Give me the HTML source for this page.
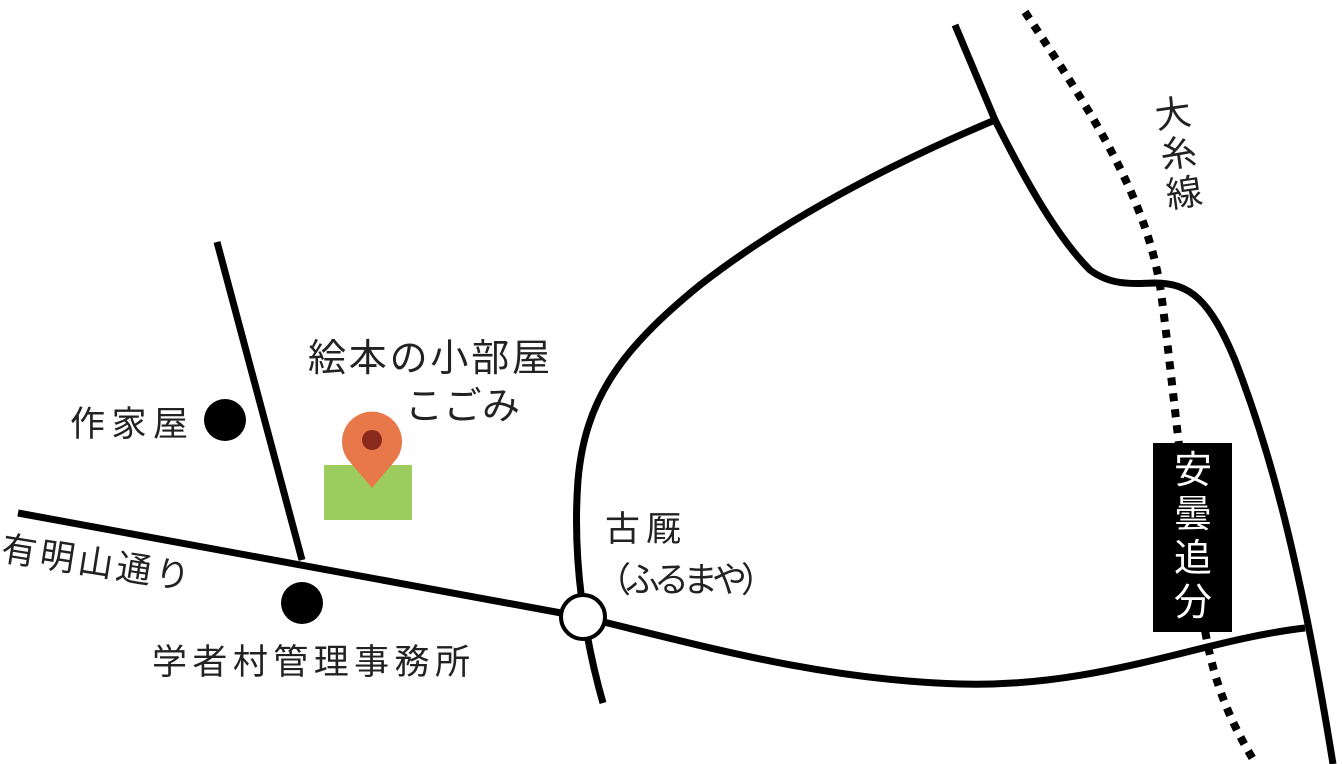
<!DOCTYPE html>
<html><head><meta charset="utf-8"><style>
html,body{margin:0;padding:0;background:#fff;}
svg{display:block;}
text{font-family:"Liberation Sans","Noto Sans CJK JP",sans-serif;fill:#222;}
</style></head><body>
<svg width="1342" height="764" viewBox="0 0 1342 764" xmlns="http://www.w3.org/2000/svg">
<g fill="none" stroke="#000" stroke-width="7" stroke-linecap="butt">
<path d="M1025,12 C1090,110 1150,200 1162,300 C1175,400 1185,520 1205,630 C1215,690 1235,730 1256,764" stroke-dasharray="8 8" stroke-width="8"/>
<path d="M18,513 L583,617"/>
<path d="M583,617 C700,645 820,680 960,684 C1100,688 1200,640 1305,628"/>
<path d="M217,242 L302,560"/>
<path d="M603,703 C585,640 572,560 578,480 C585,400 620,350 700,285 C790,215 900,160 995,120"/>
<path d="M955,25 L995,120 C1030,190 1060,240 1090,270 C1110,285 1130,284 1155,283 C1190,283 1210,300 1235,360 C1270,450 1300,560 1333,764"/>
</g>
<rect x="1153" y="443" width="79" height="189" fill="#000"/>
<g font-size="38" text-anchor="middle">
<text x="1193" y="483" style="fill:#fff">安</text>
<text x="1193" y="527" style="fill:#fff">曇</text>
<text x="1193" y="571" style="fill:#fff">追</text>
<text x="1193" y="615" style="fill:#fff">分</text>
</g>
<circle cx="583" cy="617" r="22" fill="#fff" stroke="#000" stroke-width="4"/>
<circle cx="225" cy="420" r="21" fill="#000"/>
<circle cx="302" cy="603" r="21" fill="#000"/>
<rect x="324" y="465" width="88" height="55" fill="#9ccc5e"/>
<path d="M372,488 L350,462 A30,30 0 1 1 394,462 Z" fill="#e8774a"/>
<circle cx="372" cy="440" r="10" fill="#8b2a1e"/>
<text x="70" y="436" font-size="35" textLength="118" lengthAdjust="spacing">作家屋</text>
<text x="0" y="560" font-size="35" textLength="190" lengthAdjust="spacing" transform="rotate(9 0 560)">有明山通り</text>
<text x="152" y="674" font-size="35" textLength="318" lengthAdjust="spacing">学者村管理事務所</text>
<text x="308" y="371" font-size="38" textLength="242" lengthAdjust="spacing">絵本の小部屋</text>
<text x="405" y="419" font-size="38" textLength="115" lengthAdjust="spacing">こごみ</text>
<text x="605" y="541" font-size="35" textLength="76" lengthAdjust="spacing">古厩</text>
<text x="596" y="592" font-size="35" textLength="180" lengthAdjust="spacing">（ふるまや）</text>
<g font-size="36" transform="rotate(-8 1178 150)">
<text x="1160" y="126">大</text>
<text x="1160" y="166">糸</text>
<text x="1160" y="206">線</text>
</g>
</svg>
</body></html>
